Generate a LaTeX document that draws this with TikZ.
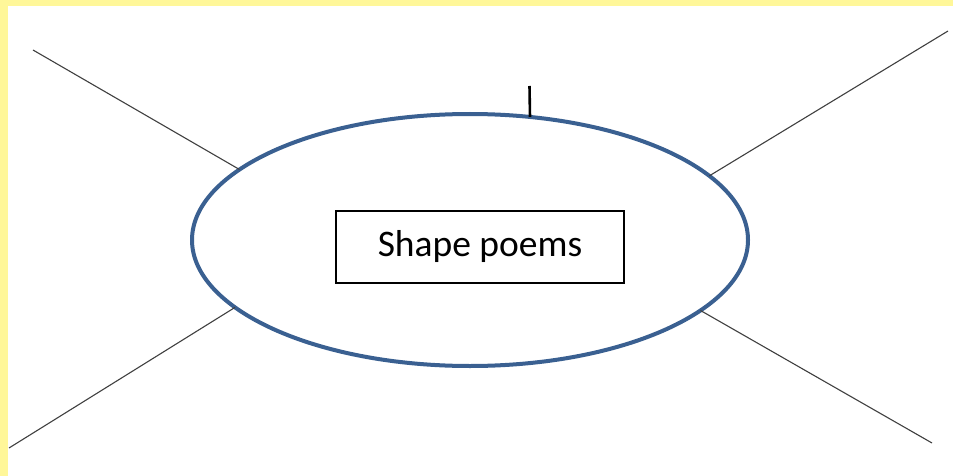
\documentclass[tikz,border=0pt]{standalone}
\usepackage{fontspec}
\setmainfont{Carlito}
\usetikzlibrary{shapes.geometric}

\definecolor{frameyellow}{HTML}{FFF799}
\definecolor{ringblue}{HTML}{3A6091}

\begin{document}
\begin{tikzpicture}[
% Change style
	x=1pt, y=-1pt,
	ring/.style={ellipse, draw=ringblue, line width=4pt, inner sep=0pt, outer sep=0pt,
		minimum width=556pt, minimum height=252pt},
	titlebox/.style={rectangle, draw=black, line width=1.2pt, fill=white,
		minimum width=288pt, minimum height=72pt, font=\fontsize{37.5}{45}\selectfont},
	leg/.style={draw=black!75, line width=1.1pt},
	tick/.style={draw=black, line width=2.6pt}]

% Background and yellow frame
\fill[white] (0,0) rectangle (953,476);
\fill[frameyellow] (0,0) rectangle (953,6);
\fill[frameyellow] (0,0) rectangle (8,476);
\useasboundingbox (0,0) rectangle (953,476);

% Ellipse
\node[ring] (ring) at (470,240) {};

% Title box
\node[titlebox] (title) at (480,247) {Shape poems};

% Free ends
\coordinate (topleft) at (33,50);
\coordinate (topright) at (948,31);
\coordinate (bottomleft) at (9,448);
\coordinate (bottomright) at (932,443);
\coordinate (ticktop) at (529.5,86);

% Connections
\draw[leg] (topleft) -- (ring.163.3);
\draw[leg] (topright) -- (ring.15.7);
\draw[leg] (bottomleft) -- (ring.196.9);
\draw[leg] (bottomright) -- (ring.343.9);
\draw[tick] (ticktop) -- (ring.64.9);

\end{tikzpicture}
\end{document}
